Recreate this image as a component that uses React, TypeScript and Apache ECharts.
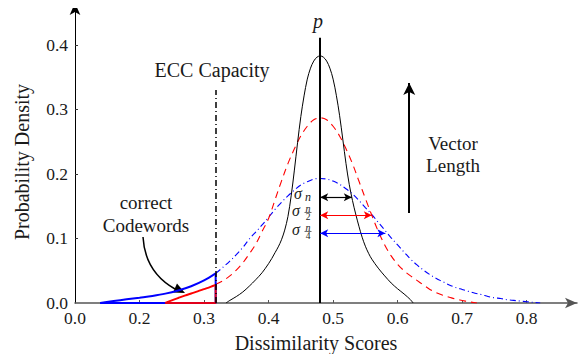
import React, { useEffect, useRef } from "react";
import * as echarts from "echarts";

// ---- data ----
const blackX = [0.334, 0.34, 0.35, 0.36, 0.37, 0.38, 0.39, 0.40, 0.405, 0.41, 0.415, 0.42, 0.425, 0.43, 0.435, 0.44, 0.445, 0.45, 0.455, 0.46, 0.465, 0.47, 0.475, 0.48, 0.485, 0.49, 0.495, 0.50, 0.505, 0.51, 0.515, 0.52, 0.525, 0.53, 0.535, 0.54, 0.545, 0.55, 0.555, 0.56, 0.57, 0.58, 0.59, 0.60, 0.61, 0.62, 0.624];
const blackY = [0, 0.004, 0.010, 0.017, 0.026, 0.036, 0.047, 0.061, 0.069, 0.078, 0.087, 0.098, 0.113, 0.134, 0.166, 0.206, 0.249, 0.289, 0.321, 0.347, 0.364, 0.375, 0.381, 0.383, 0.381, 0.375, 0.364, 0.347, 0.322, 0.291, 0.254, 0.216, 0.184, 0.159, 0.138, 0.119, 0.102, 0.088, 0.077, 0.068, 0.054, 0.042, 0.031, 0.022, 0.014, 0.005, 0];

const redX = [0.318, 0.33, 0.34, 0.35, 0.36, 0.37, 0.38, 0.39, 0.40, 0.41, 0.42, 0.43, 0.44, 0.45, 0.46, 0.47, 0.48, 0.49, 0.50, 0.51, 0.52, 0.53, 0.54, 0.55, 0.56, 0.57, 0.58, 0.59, 0.60, 0.61, 0.62, 0.63, 0.64, 0.65, 0.66, 0.67, 0.68, 0.69, 0.70, 0.71, 0.723];
const redY = [0.029, 0.035, 0.042, 0.051, 0.062, 0.076, 0.091, 0.111, 0.131, 0.160, 0.189, 0.216, 0.239, 0.259, 0.274, 0.284, 0.287, 0.284, 0.274, 0.259, 0.239, 0.216, 0.189, 0.162, 0.136, 0.111, 0.090, 0.073, 0.060, 0.050, 0.042, 0.035, 0.028, 0.021, 0.016, 0.012, 0.009, 0.006, 0.004, 0.002, 0];

const redLeftX = [0.24, 0.25, 0.26, 0.27, 0.28, 0.29, 0.30, 0.31, 0.318];
const redLeftY = [0, 0.004, 0.0078, 0.0115, 0.0148, 0.018, 0.0215, 0.025, 0.028];

const blueX = [0.318, 0.33, 0.34, 0.35, 0.36, 0.37, 0.38, 0.39, 0.40, 0.41, 0.42, 0.43, 0.44, 0.45, 0.46, 0.47, 0.48, 0.49, 0.50, 0.51, 0.52, 0.53, 0.54, 0.55, 0.56, 0.57, 0.58, 0.59, 0.60, 0.61, 0.62, 0.63, 0.64, 0.65, 0.66, 0.67, 0.68, 0.69, 0.70, 0.71, 0.72, 0.73, 0.74, 0.75, 0.76, 0.77, 0.78, 0.79, 0.80, 0.81, 0.821];
const blueY = [0.046, 0.056, 0.065, 0.075, 0.086, 0.099, 0.110, 0.121, 0.133, 0.145, 0.156, 0.166, 0.175, 0.183, 0.188, 0.192, 0.193, 0.192, 0.189, 0.184, 0.177, 0.169, 0.159, 0.148, 0.137, 0.125, 0.113, 0.101, 0.090, 0.079, 0.068, 0.059, 0.051, 0.044, 0.038, 0.033, 0.028, 0.024, 0.021, 0.018, 0.015, 0.013, 0.010, 0.008, 0.007, 0.005, 0.004, 0.003, 0.002, 0.001, 0];

const blueLeftX = [0.139, 0.16, 0.18, 0.20, 0.22, 0.24, 0.26, 0.28, 0.30, 0.318];
const blueLeftY = [0, 0.003, 0.0057, 0.0083, 0.011, 0.0145, 0.0195, 0.026, 0.035, 0.046];

const eccCapacity = 0.318;
const eccTop = 0.33;
const pValue = 0.48;
const pTop = 0.411;
const sigmaLevels = [0.164, 0.136, 0.108];
const sigmaEnds = [0.529, 0.560, 0.581];
const vectorArrow = { x: 0.618, from: 0.1395, to: 0.341 };

const xLabelValues = [0.1, 0.2, 0.3, 0.4, 0.5, 0.6, 0.7, 0.8];
const xTickValues = [0.2, 0.3, 0.4, 0.5, 0.6, 0.7, 0.8];
const yLabelValues = [0, 0.1, 0.2, 0.3, 0.4];
const yTickValues = [0.1, 0.2, 0.3, 0.4];

const zip = (xs: number[], ys: number[]) => xs.map((x, i) => [x, ys[i]]);

const FONT = "Liberation Serif";
const TXT = "#1a1a1a";

export default function App() {
  const ref = useRef<HTMLDivElement>(null);
  useEffect(() => {
    if (!ref.current) return;
    const chart = echarts.init(ref.current, undefined, { renderer: "svg" });
    const sigColors = ["#000000", "#ff0000", "#0000ff"];
    const txt = (text: string, x: number, y: number, size: number, extra: any = {}) => ({
      type: "text",
      x,
      y,
      silent: true,
      style: {
        text,
        fontSize: size,
        fontFamily: FONT,
        fill: TXT,
        align: "center",
        verticalAlign: "middle",
        textAlign: "center",
        textVerticalAlign: "middle",
        ...extra,
      },
    });
    const frac = (num: string, den: string, x: number, y: number) => [
      txt(num, x, y - 4.5, 10, { fontStyle: "italic" }),
      { type: "line", silent: true, shape: { x1: x - 3.5, y1: y, x2: x + 3.5, y2: y }, style: { stroke: "#333", lineWidth: 0.7 } },
      txt(den, x, y + 4.5, 9.5),
    ];
    const option: any = {
      animation: false,
      grid: { left: 75, right: 9, top: 3, bottom: 59, containLabel: false },
      xAxis: {
        type: "value",
        min: 0.1,
        max: 0.878,
        splitLine: { show: false },
        axisLine: { show: true, symbol: ["none", "arrow"], symbolSize: [8, 12], lineStyle: { color: "#555", width: 1.5 } },
        axisTick: { show: true, inside: true, length: 3, customValues: xTickValues, lineStyle: { color: "#555" } },
        axisLabel: {
          customValues: xLabelValues,
          margin: 6,
          fontFamily: FONT,
          fontSize: 17.5,
          color: TXT,
          formatter: (v: number) => (Math.abs(v - 0.1) < 1e-9 ? "0.0" : v.toFixed(1)),
        },
      },
      yAxis: {
        type: "value",
        min: 0,
        max: 0.465,
        splitLine: { show: false },
        axisLine: { show: true, symbol: ["none", "arrow"], symbolSize: [8, 12], lineStyle: { color: "#000", width: 1 } },
        axisTick: { show: true, inside: true, length: 3, customValues: yTickValues, lineStyle: { color: "#333" } },
        axisLabel: {
          customValues: yLabelValues,
          margin: 7,
          fontFamily: FONT,
          fontSize: 17.5,
          color: TXT,
          formatter: (v: number) => v.toFixed(1),
        },
      },
      series: [
        {
          type: "line", data: zip(blueX, blueY), smooth: 0.35, symbol: "none",
          lineStyle: { color: "#0000ff", width: 1.1, type: [6, 3, 1, 3] },
        },
        {
          type: "line", data: zip(redX, redY), smooth: 0.35, symbol: "none",
          lineStyle: { color: "#ff0000", width: 1.1, type: [7, 5] },
        },
        {
          type: "line", data: zip(blackX, blackY), smooth: 0.35, symbol: "none",
          lineStyle: { color: "#000", width: 1 },
        },
        {
          type: "line", data: zip(blueLeftX, blueLeftY), smooth: 0.35, symbol: "none",
          lineStyle: { color: "#0000ff", width: 2 },
        },
        {
          type: "line",
          data: [[eccCapacity, blueLeftY[blueLeftY.length - 1]], [eccCapacity, 0], [blueLeftX[0], 0]],
          symbol: "none", lineStyle: { color: "#0000ff", width: 2 },
        },
        {
          type: "line", data: zip(redLeftX, redLeftY), smooth: 0.35, symbol: "none",
          lineStyle: { color: "#ff0000", width: 2 },
        },
        {
          type: "line",
          data: [[eccCapacity, redLeftY[redLeftY.length - 1]], [eccCapacity, 0], [redLeftX[0], 0]],
          symbol: "none", lineStyle: { color: "#e0001b", width: 2 },
        },
        {
          type: "line",
          data: [],
          markLine: {
            silent: true,
            animation: false,
            label: { show: false },
            data: [
              [
                { coord: [eccCapacity, 0], symbol: "none", lineStyle: { color: "#000", width: 1.5, type: [6, 3, 1, 3] } },
                { coord: [eccCapacity, eccTop], symbol: "none" },
              ],
              [
                { coord: [pValue, 0], symbol: "none", lineStyle: { color: "#000", width: 2, type: "solid" } },
                { coord: [pValue, pTop], symbol: "none" },
              ],
              ...sigmaLevels.map((lv, i) => [
                { coord: [pValue, lv], symbol: "arrow", symbolSize: [6, 8], lineStyle: { color: sigColors[i], width: 1.2, type: "solid" } },
                { coord: [sigmaEnds[i], lv], symbol: "arrow", symbolSize: [6, 8] },
              ]),
              [
                { coord: [vectorArrow.x, vectorArrow.from], symbol: "none", lineStyle: { color: "#000", width: 2, type: "solid" } },
                { coord: [vectorArrow.x, vectorArrow.to], symbol: "arrow", symbolSize: [9, 12] },
              ],
            ],
          },
        },
      ],
      graphic: [
        txt("Dissimilarity Scores", 316, 343, 20),
        { ...txt("Probability Density", 22, 162, 20), rotation: Math.PI / 2 },
        txt("ECC Capacity", 212, 70, 20),
        txt("correct", 146, 202, 19),
        txt("Codewords", 146, 225, 19),
        txt("Vector", 453, 143, 19),
        txt("Length", 453, 165, 19),
        txt("p", 318, 21, 20, { fontStyle: "italic" }),
        // sigma labels
        txt("σ", 298, 193, 16, { fontStyle: "italic" }),
        txt("n", 308, 197, 12, { fontStyle: "italic" }),
        txt("σ", 296, 210, 16, { fontStyle: "italic" }),
        ...frac("n", "2", 308, 212.5),
        txt("σ", 296, 229, 16, { fontStyle: "italic" }),
        ...frac("n", "4", 308, 231.5),
        // curved arrow for "correct Codewords"
        {
          type: "bezierCurve",
          silent: true,
          shape: { x1: 143, y1: 237, cpx1: 145, cpy1: 272, x2: 175, y2: 289 },
          style: { stroke: "#000", lineWidth: 1.5, fill: "none" },
        },
        {
          type: "polygon",
          silent: true,
          shape: { points: [[185, 293], [173, 292.5], [177, 283.5]] },
          style: { fill: "#000" },
        },
      ],
    };
    chart.setOption(option);
    return () => chart.dispose();
  }, []);
  return <div ref={ref} style={{ width: 586, height: 362, margin: -8 }} />;
}
